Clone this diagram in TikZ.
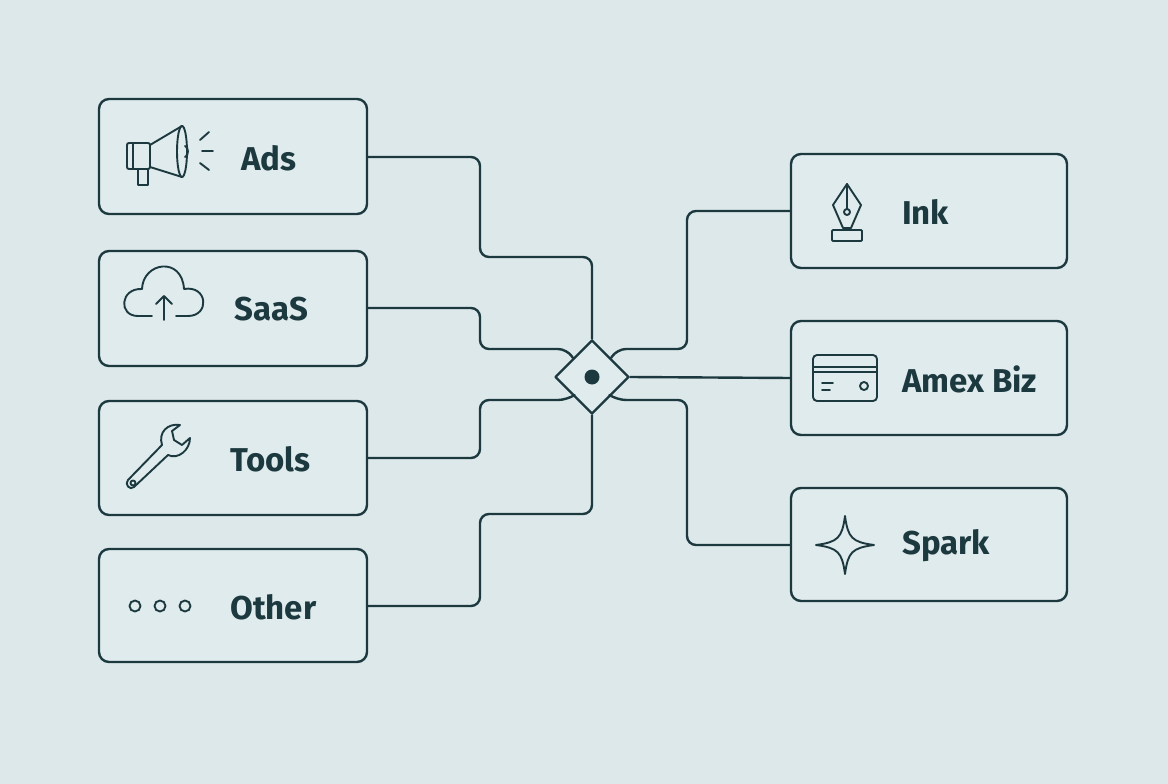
\documentclass[tikz,border=0pt]{standalone}
\usetikzlibrary{shapes.geometric}
\usepackage{fontspec}
\setmainfont{Fira Sans}
\begin{document}
\begin{tikzpicture}[x=1pt,y=-1pt,
  line width=2.4pt, line cap=round, line join=round,
  box/.style={draw=dk, fill=boxc, rounded corners=10pt},
  wire/.style={draw=dk, rounded corners=9pt},
  lbl/.style={anchor=west, inner sep=0, font=\fontsize{33}{33}\selectfont\bfseries, text=dk},
  ico/.style={draw=dk, line width=1.9pt}]
\definecolor{dk}{HTML}{1D3940}
\definecolor{bg}{HTML}{DCE8E9}
\definecolor{boxc}{HTML}{DFEBEC}
\fill[bg] (0,0) rectangle (1168,784);
\useasboundingbox (0,0) rectangle (1168,784);
% boxes
\path[box] (99,99) rectangle (367,214);
\path[box] (99,251) rectangle (367,366);
\path[box] (99,401) rectangle (367,515);
\path[box] (99,549) rectangle (367,662);
\path[box] (791,154) rectangle (1067,268);
\path[box] (791,321) rectangle (1067,435);
\path[box] (791,488) rectangle (1067,601);
\coordinate (ads) at (367,157); \coordinate (saas) at (367,308);
\coordinate (tools) at (367,458); \coordinate (other) at (367,606);
\coordinate (ink) at (791,211); \coordinate (amex) at (791,378);
\coordinate (spark) at (791,545);
% hub
\node[draw=dk, line width=2.4pt, fill=boxc, diamond, shape aspect=1, minimum size=74pt, inner sep=0] (hub) at (592,377) {};
\fill[dk] (hub.center) circle (7.5);
% wires
\path[wire] (ads) -- (480,157) -- (480,257) -- (592,257) -- (hub.north);
\path[wire] (saas) -- (480,308) -- (480,349) -- (567,349) -- (hub.north west);
\path[wire] (tools) -- (480,458) -- (480,400) -- (567,400) -- (hub.south west);
\path[wire] (other) -- (480,606) -- (480,514) -- (592,514) -- (hub.south);
\path[wire] (hub.north east) -- (617,349) -- (687,349) -- (687,211) -- (ink);
\path[wire] (hub.east) -- (amex);
\path[wire] (hub.south east) -- (617,400) -- (687,400) -- (687,545) -- (spark);
% labels
\node[lbl] (tads) at (240,158) {Ads};
\node[lbl] (tsaas) at (233,309) {SaaS};
\node[lbl] (ttools) at (229,459) {Tools};
\node[lbl] (tother) at (229,607) {Other};
\node[lbl] (tink) at (901,212) {Ink};
\node[lbl] (tamex) at (901,379) {Amex Biz};
\node[lbl] (tspark) at (901,546) {Spark};
% megaphone
\draw[ico, rounded corners=2pt] (127,143) rectangle (150,169);
\draw[ico] (150,145) -- (182,126) (150,167) -- (182,177);
\draw[ico] (182,151.5) ellipse (5 and 25.5);
\draw[ico] (185,146) arc (-90:90:3 and 5.5);
\draw[ico] (138,169) -- (138,185) -- (148,185) -- (148,169);
\draw[ico] (133,143) -- (133,169);
\draw[ico] (200,140) -- (209,132) (202,151) -- (213,151) (200,163) -- (209,170);
% cloud
\draw[ico] (152,316) -- (138,316) .. controls (118,316) and (120,288) .. (142,289)
  .. controls (143,262) and (182,256) .. (184,289)
  .. controls (208,285) and (210,316) .. (188,316) -- (176,316);
\draw[ico] (164,320) -- (164,296) (156,304) -- (164,296) -- (172,304);
% wrench
\draw[ico] (128,480) .. controls (124,484) and (130,491) .. (134,487) -- (168,455)
  .. controls (178,460) and (190,450) .. (190,438) -- (182,445) -- (174,440) -- (172,431) -- (180,425)
  .. controls (168,423) and (158,432) .. (162,445) -- cycle;
\draw[ico] (133,483) circle (2.5);
% dots
\foreach \x in {135,160,185} \draw[ico] (\x,606) circle (5.5);
% pen nib
\draw[ico] (847,184) -- (833,205) -- (843,228) -- (851,228) -- (861,205) -- cycle;
\draw[ico] (847,184) -- (847,209);
\draw[ico] (847,212) circle (3);
\draw[ico, rounded corners=1pt] (832,230) rectangle (862,241);
% card
\draw[ico, rounded corners=4pt] (813,355) rectangle (877,401);
\draw[ico] (813,367) -- (877,367) (813,372) -- (877,372);
\draw[ico] (822,383) -- (833,383) (822,390) -- (830,390);
\draw[ico] (864,386) circle (4);
% star
\draw[ico] (845,516) .. controls (848,538) and (852,542) .. (874,545)
  .. controls (852,548) and (848,552) .. (845,574)
  .. controls (842,552) and (838,548) .. (816,545)
  .. controls (838,542) and (842,538) .. cycle;
\end{tikzpicture}
\end{document}
